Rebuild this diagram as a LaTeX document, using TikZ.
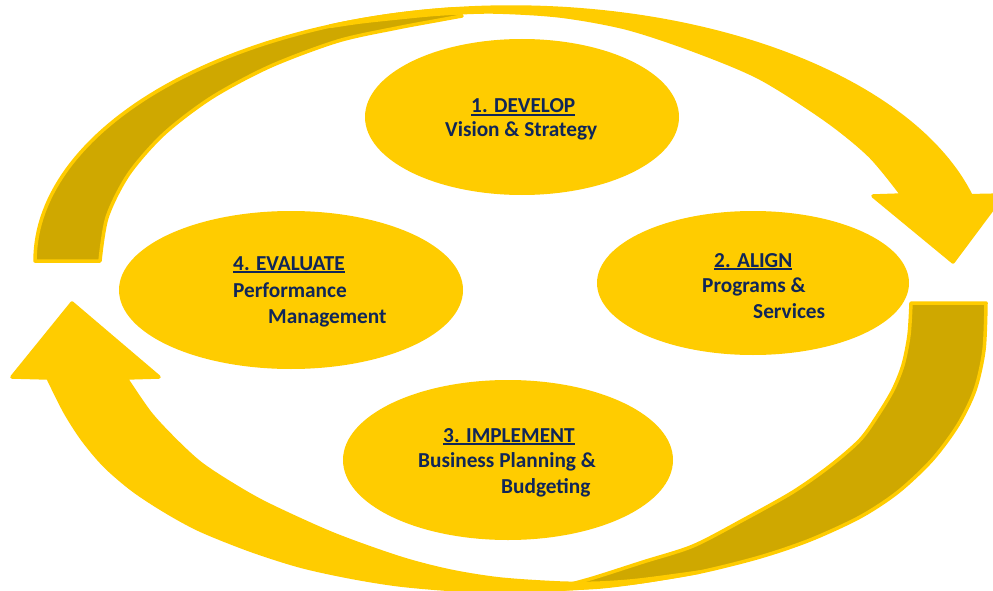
\documentclass[tikz,border=0pt]{standalone}
\usepackage{fontspec}
\setmainfont{Carlito}
\usetikzlibrary{shapes.geometric}
\definecolor{ayellow}{RGB}{255,204,0}
\definecolor{adark}{RGB}{207,168,0}
\definecolor{anavy}{RGB}{16,38,88}
\newcommand\ulin[1]{\setbox0=\hbox{#1}\rlap{\rule[-2.9pt]{\wd0}{1.6pt}}\box0}
\begin{document}
\begin{tikzpicture}[x=1pt,y=-1pt,
  bubble/.style={ellipse, fill=ayellow, inner sep=0pt},
  lbl/.style={anchor=base west, inner sep=0pt, text=anavy, font=\fontsize{21.3}{25}\selectfont\bfseries},
  band/.style={fill=ayellow, draw=ayellow, line width=3.5pt, line join=round},
  backband/.style={fill=adark, draw=ayellow, line width=3.5pt, line join=round}]
\clip (0,0) rectangle (993,591);
\fill[white] (0,0) rectangle (993,591);
% top arrow: back band
\path[backband] plot[domain=180:97, samples=60] ({511+476*cos(\x)},{261-254*sin(\x)})
  -- plot[smooth] coordinates {(462,16) (440,20) (397,28) (338,41) (270,66.4) (211.4,97.7) (163.8,134) (128.7,174.1) (107.2,216.9) (100,261)} -- cycle;
% top arrow: front band with head
\path[band] plot[domain=112.4:14.9, samples=80] ({511+476*cos(\x)},{261-254*sin(\x)})
  -- (1003,195) -- (953,262) -- (873,196) -- (902,195)
  -- plot[smooth] coordinates {(902,195) (870,156) (826,120) (760,78) (693,50) (626,28) (560,16) (493,12) (440,14) (397,18) (360,22) (333,26)} -- cycle;
% bottom arrow: back band
\path[backband] plot[smooth] coordinates {(986,303) (984,350) (975,390) (958,425) (932,460) (898,492) (860,517) (810,540) (760,557) (700,572) (640,582) (600,587) (560,589)}
  -- plot[smooth] coordinates {(560,587) (593,578) (643,562) (693,546) (743,520) (793,492) (830,466) (860,440) (878,415) (893,390) (903,365) (909,335) (911,303)} -- cycle;
% bottom arrow: front band with head
\path[band] plot[smooth] coordinates {(700,572) (640,582) (580,588) (520,591) (460,590) (400,585) (350,577) (300,566) (250,550) (200,530) (165,511) (133,490) (105,466) (83,440) (65,412) (48,378)}
  -- (12,377) -- (72,303) -- (159,377) -- (126,378)
  -- plot[smooth] coordinates {(126,378) (150,413) (175,440) (200,463) (230,483) (267,504) (333,534) (400,558) (450,571) (500,579) (560,583) (600,583) (640,580) (700,572)} -- cycle;
% ellipses
\node[bubble, minimum width=314pt, minimum height=156pt] (dev) at (522,117) {};
\node[bubble, minimum width=344pt, minimum height=158pt] (eva) at (291,290) {};
\node[bubble, minimum width=312pt, minimum height=144pt] (ali) at (753,283) {};
\node[bubble, minimum width=330pt, minimum height=160pt] (imp) at (508,460) {};
% labels
\node[lbl] (dev1) at (471,113) {\ulin{1. DEVELOP}};
\node[lbl] (dev2) at (445,137) {Vision \& Strategy};
\node[lbl] (ali1) at (714,267) {\ulin{2. ALIGN}};
\node[lbl] (ali2) at (702,292) {Programs \&};
\node[lbl] (ali3) at (753,318) {Services};
\node[lbl] (imp1) at (443,442) {\ulin{3. IMPLEMENT}};
\node[lbl] (imp2) at (418,467) {Business Planning \&};
\node[lbl] (imp3) at (501,493) {Budgeting};
\node[lbl] (eva1) at (233,270) {\ulin{4. EVALUATE}};
\node[lbl] (eva2) at (233,297) {Performance};
\node[lbl] (eva3) at (268,323) {Management};
\end{tikzpicture}
\end{document}
